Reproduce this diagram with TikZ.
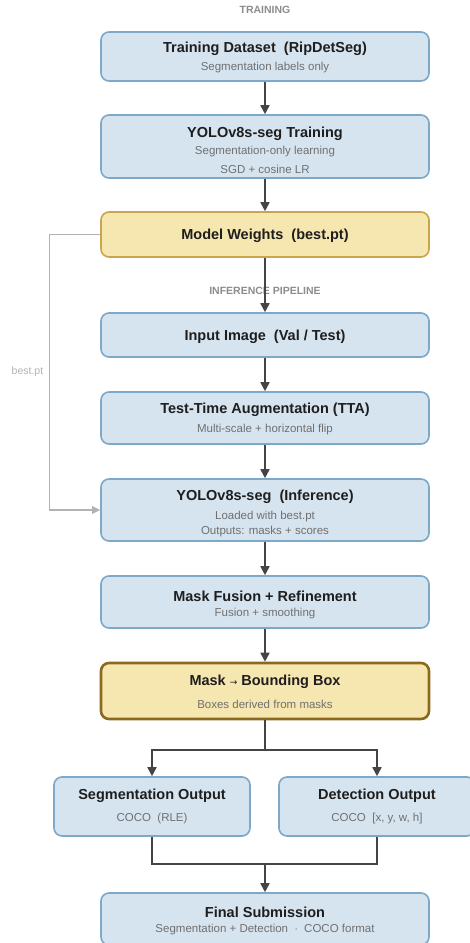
\documentclass[tikz,border=0pt]{standalone}
\usepackage{fontspec}
\setmainfont{Liberation Sans}
\newfontfamily\symfont{DejaVu Sans}
\usetikzlibrary{arrows.meta}
\definecolor{boxfill}{HTML}{D6E4EF}
\definecolor{boxline}{HTML}{7DA8C7}
\definecolor{wfill}{HTML}{F6E6B0}
\definecolor{wline}{HTML}{C9A54C}
\definecolor{bline}{HTML}{8B6A1E}
\definecolor{flow}{HTML}{444444}
\definecolor{titlecol}{HTML}{1E1E1E}
\definecolor{subcol}{HTML}{707070}
\definecolor{headcol}{HTML}{8C8C8C}
\definecolor{fbcol}{HTML}{B2B2B2}
\begin{document}
\begin{tikzpicture}[x=1pt,y=-1pt,%
  % common options for the boxes:
  stage/.style = {draw=boxline, fill=boxfill, line width=1.6pt, rounded corners=8pt,
              minimum width=328pt, inner sep=0},
  weights/.style = {stage, draw=wline, fill=wfill},
  bbox/.style = {stage, draw=bline, fill=wfill, line width=2.6pt},
  % common options for the texts:
  ttl/.style = {text=titlecol, font=\fontsize{14.5}{16}\selectfont\bfseries, inner sep=0},
  sub/.style = {text=subcol, font=\fontsize{11.5}{13}\selectfont, inner sep=0},
  head/.style = {text=headcol, font=\fontsize{10.5}{12}\selectfont\bfseries, inner sep=0},
  % common options for the connectors:
  flowline/.style = {draw=flow, line width=1.7pt, -{Triangle[length=9pt,width=9pt]}},
  feedback/.style = {draw=fbcol, line width=1.3pt, -{Triangle[length=8pt,width=7.5pt]}}]
\useasboundingbox (0,0) rectangle (469,943);
\node[head] (H1) at (265,10) {TRAINING};
\node[stage,minimum height=49pt] (data) at (265,56.5) {};
\node[ttl] (dataT) at (265,49) {Training Dataset\ \ (RipDetSeg)};
\node[sub] (dataS) at (265,68) {Segmentation labels only};
\node[stage,minimum height=63pt] (train) at (265,146.5) {};
\node[ttl] (trainT) at (265,134) {YOLOv8s-seg Training};
\node[sub] (trainS1) at (265,152) {Segmentation-only learning};
\node[sub] (trainS2) at (265,169) {SGD + cosine LR};
\node[weights,minimum height=45pt] (wts) at (265,234.5) {};
\node[ttl] (wtsT) at (265,236) {Model Weights\ \ (best.pt)};
\node[head] (H2) at (265,291) {INFERENCE PIPELINE};
\node[stage,minimum height=44pt] (input) at (265,335) {};
\node[ttl] (inputT) at (265,337) {Input Image\ \ (Val / Test)};
\node[stage,minimum height=52pt] (tta) at (265,418) {};
\node[ttl] (ttaT) at (265,410) {Test-Time Augmentation (TTA)};
\node[sub] (ttaS) at (265,430) {Multi-scale + horizontal flip};
\node[stage,minimum height=62pt] (infer) at (265,510) {};
\node[ttl] (inferT) at (265,497) {YOLOv8s-seg\ \ (Inference)};
\node[sub] (inferS1) at (265,517) {Loaded with best.pt};
\node[sub] (inferS2) at (265,532) {Outputs: masks + scores};
\node[stage,minimum height=52pt] (fuse) at (265,602) {};
\node[ttl] (fuseT) at (265,596) {Mask Fusion + Refinement};
\node[sub] (fuseS) at (265,614) {Fusion + smoothing};
\node[bbox,minimum height=56pt] (box) at (265,691) {};
\node[ttl] (boxT) at (265,682) {Mask\ {\symfont\fontsize{9}{9}\selectfont\mdseries →}\ Bounding Box};
\node[sub] (boxS) at (265,704) {Boxes derived from masks};
\node[stage,minimum width=196pt,minimum height=59pt] (seg) at (152,806.5) {};
\node[ttl] (segT) at (152,796) {Segmentation Output};
\node[sub] (segS) at (152,819) {COCO\ \ (RLE)};
\node[stage,minimum width=196pt,minimum height=59pt] (det) at (377,806.5) {};
\node[ttl] (detT) at (377,796) {Detection Output};
\node[sub] (detS) at (377,819) {COCO\ \ [x, y, w, h]};
\node[stage,minimum height=52pt] (final) at (265,919) {};
\node[ttl] (finalT) at (265,912) {Final Submission};
\node[sub] (finalS) at (265,930) {Segmentation + Detection\ \ $\cdot$\ \ COCO format};
\coordinate (split) at (265,750);
\coordinate (merge) at (265,864);
\draw[flowline] (data.south) to (train.north);
\draw[flowline] (train.south) to (wts.north);
\draw[flowline] (wts.south) to (input.north);
\draw[flowline] (input.south) to (tta.north);
\draw[flowline] (tta.south) to (infer.north);
\draw[flowline] (infer.south) to (fuse.north);
\draw[flowline] (fuse.south) to (box.north);
\draw[flowline,-] (box.south) to (split);
\draw[flowline] (split) -| (seg.north);
\draw[flowline] (split) -| (det.north);
\draw[flowline,-] (seg.south) |- (merge);
\draw[flowline,-] (det.south) |- (merge);
\draw[flowline] (merge) to (final.north);
\draw[feedback] (wts.west) -- ++(-51,0) |- (infer.west)
  node[pos=0.25,left=2pt,text=fbcol,font=\fontsize{10.5}{12}\selectfont] (fbL) {best.pt};
\end{tikzpicture}
\end{document}
